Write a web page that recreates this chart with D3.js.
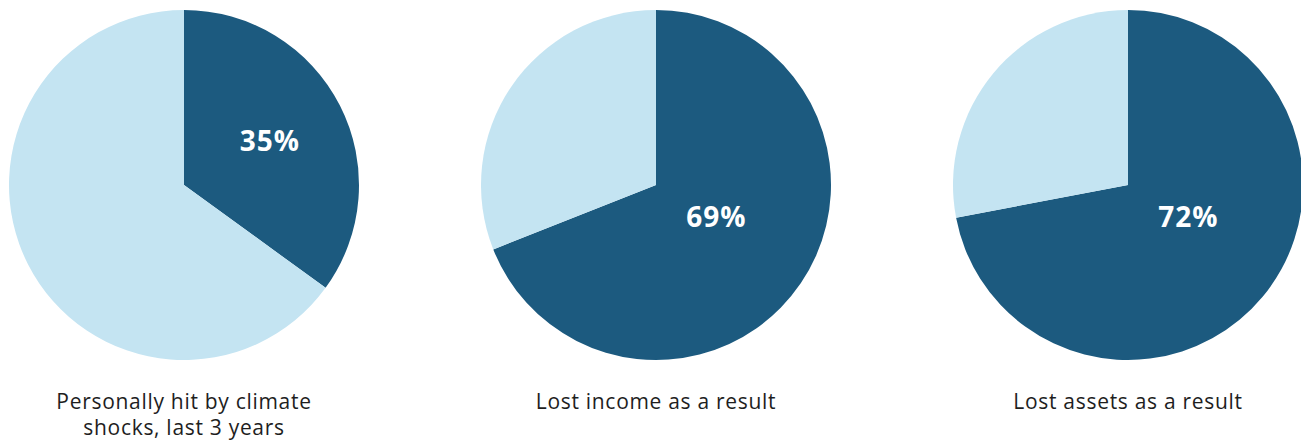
<!DOCTYPE html>
<html>
<head>
<meta charset="utf-8">
<script src="https://cdn.jsdelivr.net/npm/d3@7"></script>
<style>
  body { margin: 0; background: #fff; }
  svg { display: block; font-family: "Open Sans", Lato, sans-serif; }
</style>
</head>
<body>
<svg></svg>
<script>
// data
const titles = [
  ["Personally hit by climate", "shocks, last 3 years"],
  ["Lost income as a result"],
  ["Lost assets as a result"],
];
const shares = [35, 69, 72];

// label placement inside dark slice: [angle in degrees from top, fraction of radius]
const labelPlace = [
  [63, 0.55],
  [118, 0.39],
  [118, 0.39],
];

const width = 1301;
const height = 444;
const radius = 175;
const centerY = 185;

const dark = "#1c5a7f";
const light = "#c4e4f2";

const svg = d3.select("svg").attr("width", width).attr("height", height);

const xScale = d3.scalePoint()
  .domain(d3.range(shares.length))
  .range([184, 1128]);

const pie = d3.pie().sort(null).value((d) => d.v);
const arc = d3.arc().innerRadius(0).outerRadius(radius);

shares.forEach((s, i) => {
  const g = svg.append("g")
    .attr("transform", "translate(" + xScale(i) + "," + centerY + ")");

  const parts = [
    { v: s, color: dark },
    { v: 100 - s, color: light },
  ];

  g.selectAll("path")
    .data(pie(parts))
    .enter()
    .append("path")
    .attr("d", arc)
    .attr("fill", (d) => d.data.color);

  const a = (labelPlace[i][0] * Math.PI) / 180;
  const r = labelPlace[i][1] * radius;
  g.append("text")
    .attr("x", Math.sin(a) * r)
    .attr("y", -Math.cos(a) * r)
    .attr("dy", "0.36em")
    .attr("text-anchor", "middle")
    .attr("fill", "#fff")
    .attr("font-weight", 700)
    .attr("font-size", 28)
    .attr("letter-spacing", 1)
    .text(s + "%");

  // one text element per title line
  titles[i].forEach((line, j) => {
    g.append("text")
      .attr("x", 0)
      .attr("y", 224 + j * 26)
      .attr("text-anchor", "middle")
      .attr("fill", "#1e1e1e")
      .attr("font-size", 21)
      .attr("letter-spacing", 0.7)
      .text(line);
  });
});
</script>
</body>
</html>
